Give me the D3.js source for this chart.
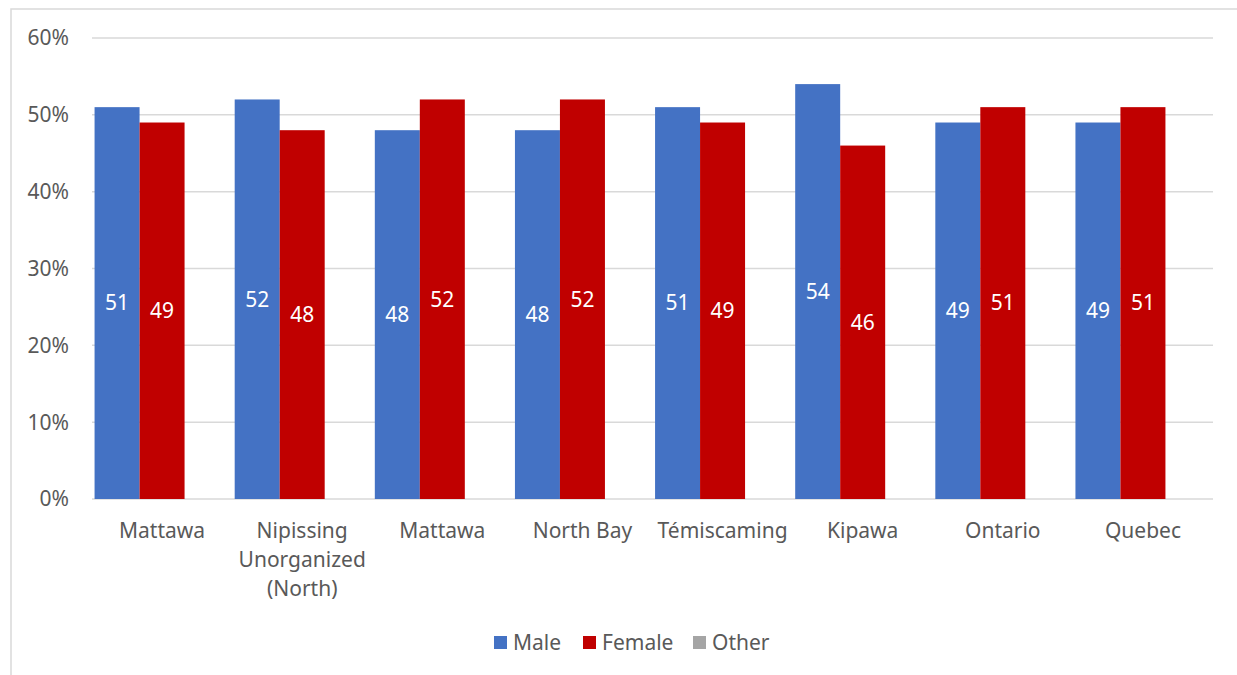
<!DOCTYPE html>
<html lang="en">
<head>
    <meta charset="UTF-8">
    <title>Male / Female share</title>
    <style>
    body { margin: 0; background: #fff; }
    svg { display: block; font-family: "Noto Sans", "Open Sans", sans-serif; }
    </style>
    <script src="https://cdn.jsdelivr.net/npm/d3@7"></script>
</head>
<body>
    <svg width="1237" height="675"></svg>
    <script>
        var categories = ["Mattawa", "Nipissing\nUnorganized\n(North)", "Mattawa", "North Bay", "Témiscaming", "Kipawa", "Ontario", "Quebec"];
        var seriesNames = ["Male", "Female", "Other"];
        var male = [51, 52, 48, 48, 51, 54, 49, 49];
        var female = [49, 48, 52, 52, 49, 46, 51, 51];
        var other = [0, 0, 0, 0, 0, 0, 0, 0];
        var yTicks = [0, 0.1, 0.2, 0.3, 0.4, 0.5, 0.6];
        var colors = ["#4472C4", "#C00000", "#A5A5A5"];

        var values = [male, female, other];
        var svg = d3.select("svg");
        var textColor = "#595959";
        var fontSize = 21;

        // outer chart border
        svg.append("rect")
            .attr("x", 11).attr("y", 9)
            .attr("width", 1240).attr("height", 680)
            .attr("fill", "none").attr("stroke", "#d9d9d9").attr("stroke-width", 1.5);

        var plotLeft = 92, plotRight = 1213, plotTop = 38, plotBottom = 499;

        var x = d3.scaleBand()
            .domain(d3.range(categories.length))
            .range([plotLeft, plotRight]);

        // 3 series per category (Other is all zero), small gap between groups
        var xs = d3.scaleBand()
            .domain(seriesNames)
            .range([0, x.bandwidth()])
            .paddingInner(0)
            .paddingOuter(0.057);

        var y = d3.scaleLinear().domain([0, 0.6]).range([plotBottom, plotTop]);

        // gridlines
        svg.append("g")
            .selectAll("line")
            .data(yTicks)
            .join("line")
            .attr("x1", plotLeft).attr("x2", plotRight)
            .attr("y1", d => y(d)).attr("y2", d => y(d))
            .attr("stroke", "#d9d9d9").attr("stroke-width", 1.5);

        // y tick labels
        svg.append("g")
            .selectAll("text")
            .data(yTicks)
            .join("text")
            .attr("x", 69)
            .attr("y", d => y(d))
            .attr("dy", "0.35em")
            .attr("text-anchor", "end")
            .attr("fill", textColor)
            .attr("font-size", fontSize)
            .text(d3.format(".0%"));

        // bars
        var groups = svg.append("g")
            .selectAll("g")
            .data(categories)
            .join("g")
            .attr("transform", (d, i) => "translate(" + x(i) + ",0)");

        groups.selectAll("rect")
            .data((d, i) => seriesNames.map((s, k) => ({ s: s, k: k, v: values[k][i] })))
            .join("rect")
            .attr("x", d => xs(d.s))
            .attr("width", xs.bandwidth())
            .attr("y", d => y(d.v / 100))
            .attr("height", d => y(0) - y(d.v / 100))
            .attr("fill", d => colors[d.k]);

        // data labels, centred in the bar
        groups.selectAll("text")
            .data((d, i) => seriesNames.slice(0, 2).map((s, k) => ({ s: s, k: k, v: values[k][i] })))
            .join("text")
            .attr("x", d => xs(d.s) + xs.bandwidth() / 2)
            .attr("y", d => y(d.v / 200))
            .attr("dy", "0.35em")
            .attr("text-anchor", "middle")
            .attr("fill", "#fff")
            .attr("font-size", fontSize)
            .text(d => d.v);

        // category labels
        var catText = svg.append("g")
            .selectAll("text")
            .data(categories)
            .join("text")
            .attr("x", (d, i) => x(i) + x.bandwidth() / 2)
            .attr("y", 538)
            .attr("text-anchor", "middle")
            .attr("fill", textColor)
            .attr("font-size", fontSize);

        catText.selectAll("tspan")
            .data(d => d.split("\n"))
            .join("tspan")
            .attr("x", function() { return this.parentNode.getAttribute("x"); })
            .attr("dy", (d, i) => i === 0 ? 0 : 29)
            .text(d => d);

        // legend
        var legendX = [494, 583, 693];
        var legend = svg.append("g")
            .selectAll("g")
            .data(seriesNames)
            .join("g")
            .attr("transform", (d, i) => "translate(" + legendX[i] + ",636)");

        legend.append("rect")
            .attr("width", 13).attr("height", 13)
            .attr("fill", (d, i) => colors[i]);

        legend.append("text")
            .attr("x", 19).attr("y", 7)
            .attr("dy", "0.35em")
            .attr("fill", textColor)
            .attr("font-size", fontSize)
            .text(d => d);
    </script>
</body>
</html>
